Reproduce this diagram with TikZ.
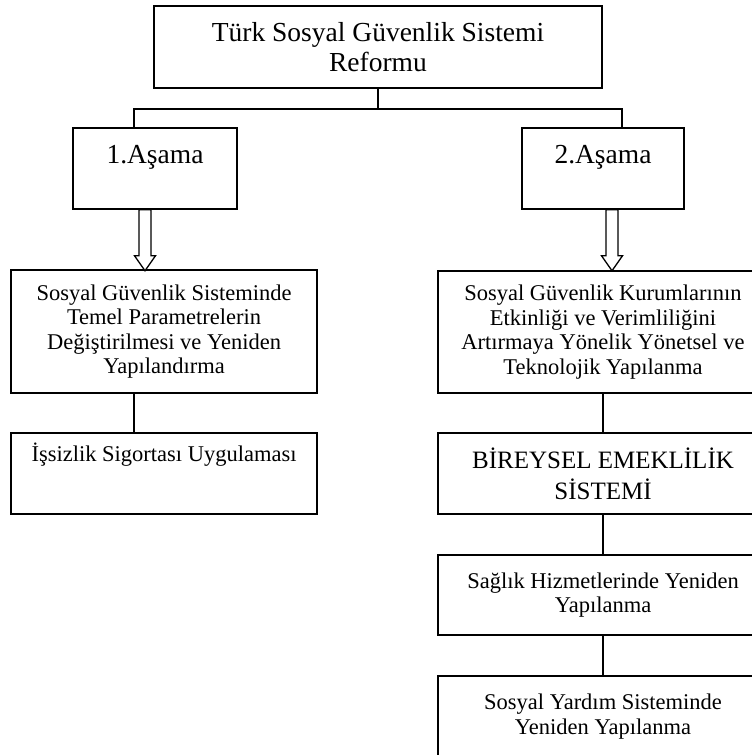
\documentclass[tikz,border=0pt]{standalone}
\usepackage{fontspec}
\setmainfont{Liberation Serif}
\usetikzlibrary{positioning}

\newcommand{\hollowdown}[1]{%
  \draw[fatarrow] (#1) ++(-6,0) -- ++(0,46) -- ++(-4.5,0) -- ++(10.5,15)
    -- ++(10.5,-15) -- ++(-4.5,0) -- ++(0,-46) -- cycle;}

\begin{document}
\begin{tikzpicture}[x=1pt,y=-1pt,line width=1.5pt,
    box/.style={draw,inner sep=0pt,align=center},
    big/.style={font=\fontsize{27.5}{30}\selectfont},
    small/.style={font=\fontsize{22.5}{24.5}\selectfont},
    fatarrow/.style={draw,fill=white,line width=1.3pt,line join=miter}]
\useasboundingbox (0,0) rectangle (752,755);
\clip (0,0) rectangle (752,755);

% top
\node[box,big,minimum width=448pt,minimum height=82pt] (reform) at (378,47)
    {Türk Sosyal Güvenlik Sistemi\\Reformu};
\node[draw,inner sep=0pt,big,minimum width=164pt,text height=35pt,text depth=46pt]
    (asama1) at (155,168.5) {1.Aşama};
\node[draw,inner sep=0pt,big,minimum width=162pt,text height=35pt,text depth=46pt]
    (asama2) at (603,168.5) {2.Aşama};
\draw (reform.south) -- ++(0,20) coordinate (fork);
\draw ([xshift=-21pt]asama1.north) |- (fork) -| ([xshift=19pt]asama2.north);

% left branch
\node[box,small,minimum width=306pt,minimum height=123pt] (param) at (164,331.5)
    {Sosyal Güvenlik Sisteminde\\Temel Parametrelerin\\Değiştirilmesi ve Yeniden\\Yapılandırma};
\node[draw,inner sep=0pt,small,minimum width=306pt,text height=28pt,text depth=53pt]
    (issizlik) at (164,473.5) {İşsizlik Sigortası Uygulaması};
\hollowdown{[xshift=-10pt]asama1.south}
\draw ([xshift=-30pt]param.south) -- ([xshift=-30pt]issizlik.north);

% right branch
\node[box,small,minimum width=330pt,minimum height=122pt] (kurum) at (603,332)
    {Sosyal Güvenlik Kurumlarının\\Etkinliği ve Verimliliğini\\Artırmaya Yönelik Yönetsel ve\\Teknolojik Yapılanma};
\node[box,font=\fontsize{25}{31}\selectfont,minimum width=330pt,minimum height=81pt]
    (bes) at (603,473.5) {BİREYSEL EMEKLİLİK\\SİSTEMİ};
\node[box,small,minimum width=330pt,minimum height=80pt] (saglik) at (603,595)
    {Sağlık Hizmetlerinde Yeniden\\Yapılanma};
\node[box,small,minimum width=330pt,minimum height=81pt] (yardim) at (603,716.5)
    {Sosyal Yardım Sisteminde\\Yeniden Yapılanma};
\hollowdown{[xshift=9pt]asama2.south}
\draw (kurum.south) -- (bes.north);
\draw (bes.south) -- (saglik.north);
\draw (saglik.south) -- (yardim.north);
\end{tikzpicture}
\end{document}
